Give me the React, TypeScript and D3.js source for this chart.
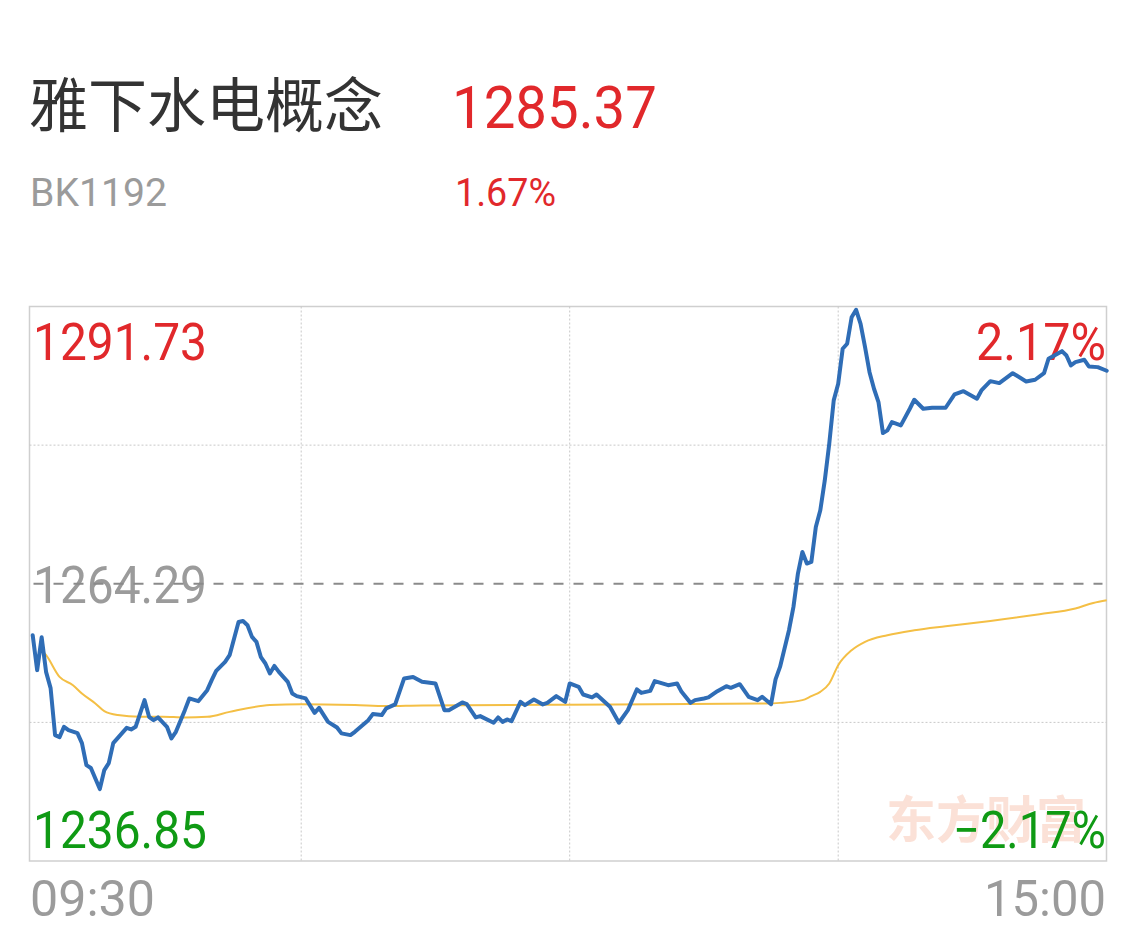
import React from "react";
import * as d3 from "d3";

// Intraday trend of the 雅下水电概念 sector index (BK1192)
const SECTOR_NAME = "雅下水电概念";
const SECTOR_CODE = "BK1192";
const LAST_PRICE = 1285.37;
const CHANGE_PCT = "1.67%";
const PREV_CLOSE = 1264.29;
const AXIS_HIGH = 1291.73;
const AXIS_LOW = 1236.85;
const HIGH_PCT = "2.17%";
const LOW_PCT = "\u22122.17%";
const timeLabels = ["09:30", "15:00"];
const TOTAL_MINUTES = 240;

// Price line: minute index since open (lunch break removed) and index level
const priceMinutes = [
  0, 1, 2, 3, 4, 5, 6, 7, 8, 10, 11, 12, 13, 15, 16, 17, 18, 21, 22, 23, 25, 26, 27, 28, 30,
  31, 32, 34, 35, 37, 39, 40, 41, 43, 44, 46, 47, 48, 49, 50, 51, 52, 53, 54, 55, 57, 58, 59,
  61, 63, 64, 66, 68, 69, 71, 72, 75, 76, 78, 79, 81, 83, 85, 87, 90, 92, 93, 96, 97, 99, 100,
  103, 104, 105, 106, 107, 109, 110, 112, 114, 115, 117, 119, 120, 122, 123, 125, 126, 129,
  131, 133, 135, 136, 138, 139, 142, 144, 145, 147, 148, 150, 151, 153, 155, 156, 158, 160,
  162, 163, 165, 166, 167, 169, 170, 171, 172, 173, 174, 175, 176, 177, 178, 179, 180, 181,
  182, 183, 184, 185, 186, 187, 188, 189, 190, 191, 192, 194, 196, 197, 199, 201, 204, 206,
  208, 211, 212, 214, 216, 219, 222, 224, 226, 227, 230, 231, 232, 233, 235, 236, 238, 240,
];
const priceValues = [
  1259.2, 1255.74, 1259.0, 1255.54, 1253.96, 1249.31, 1249.11, 1250.13, 1249.8, 1249.51,
  1248.52, 1246.34, 1246.05, 1243.97, 1245.85, 1246.54, 1248.52, 1250.03, 1249.87, 1250.13,
  1252.77, 1251.12, 1250.79, 1251.06, 1250.13, 1248.98, 1249.64, 1251.78, 1252.94, 1252.67,
  1253.76, 1254.75, 1255.67, 1256.56, 1257.22, 1260.51, 1260.61, 1260.19, 1259.03, 1258.54,
  1257.02, 1256.4, 1255.41, 1256.16, 1255.57, 1254.58, 1253.43, 1253.17, 1252.94, 1251.51,
  1252.01, 1250.62, 1250.07, 1249.48, 1249.31, 1249.64, 1250.79, 1251.39, 1251.29, 1251.95,
  1252.35, 1254.92, 1255.07, 1254.58, 1254.42, 1251.78, 1251.78, 1252.54, 1252.37, 1251.06,
  1251.19, 1250.53, 1251.06, 1250.62, 1250.86, 1250.69, 1252.6, 1252.28, 1252.84, 1252.35,
  1252.5, 1253.17, 1252.6, 1254.42, 1254.09, 1253.33, 1253.04, 1253.33, 1252.11, 1250.53,
  1251.78, 1253.83, 1253.49, 1253.69, 1254.65, 1254.25, 1254.42, 1253.59, 1252.5, 1252.77,
  1252.94, 1253.04, 1253.66, 1254.15, 1253.99, 1254.35, 1253.1, 1252.77, 1253.1, 1252.37,
  1254.82, 1256.06, 1259.69, 1262.0, 1265.3, 1267.43, 1266.29, 1266.45, 1269.91, 1271.56,
  1274.52, 1278.15, 1282.44, 1284.09, 1287.55, 1288.04, 1290.67, 1291.4, 1290.02, 1287.71,
  1285.23, 1283.59, 1282.27, 1279.2, 1279.47, 1280.29, 1279.96, 1281.61, 1282.5, 1281.61,
  1281.71, 1281.71, 1283.03, 1283.35, 1282.6, 1283.42, 1284.34, 1284.15, 1285.13, 1284.31,
  1284.48, 1285.13, 1286.56, 1287.31, 1286.88, 1285.9, 1286.22, 1286.46, 1285.8, 1285.73,
  LAST_PRICE,
];

// Average price line
const avgMinutes = [
  2, 3, 6, 9, 11, 14, 16, 19, 24, 29, 34, 39, 44, 53, 60, 72, 79, 87, 119, 164, 167, 172, 174,
  176, 178, 180, 183, 186, 191, 197, 204, 214, 225, 233, 237, 240,
];
const avgValues = [
  1257.71, 1257.22, 1255.07, 1254.25, 1253.43, 1252.44, 1251.68, 1251.29, 1251.12, 1251.12,
  1251.06, 1251.12, 1251.61, 1252.28, 1252.37, 1252.28, 1252.18, 1252.25, 1252.31, 1252.44,
  1252.5, 1252.77, 1253.17, 1253.59, 1254.42, 1256.23, 1257.71, 1258.54, 1259.2, 1259.69,
  1260.09, 1260.61, 1261.27, 1261.84, 1262.39, 1262.66,
];

const W = 1136;
const H = 933;
const box = { left: 29.5, right: 1106.5, top: 306.5, bottom: 861 };
const RED = "#e1282b";
const GREEN = "#0f9a14";
const GRAY = "#9b9b9b";
const NUM_FONT = "Roboto, 'Noto Sans', sans-serif";
const CJK_FONT = "'Noto Sans CJK SC', 'Noto Sans', sans-serif";

export default function App() {
  const x = d3.scaleLinear().domain([0, TOTAL_MINUTES]).range([32.7, 1106.7]);
  const y = d3.scaleLinear().domain([AXIS_LOW, AXIS_HIGH]).range([box.bottom, box.top]);

  const priceData = priceMinutes.map((m, i) => [m, priceValues[i]] as [number, number]);
  const avgData = avgMinutes.map((m, i) => [m, avgValues[i]] as [number, number]);

  const priceLine = d3
    .line<[number, number]>()
    .x((d) => x(d[0]))
    .y((d) => y(d[1]))
    .curve(d3.curveLinear);
  const avgLine = d3
    .line<[number, number]>()
    .x((d) => x(d[0]))
    .y((d) => y(d[1]))
    .curve(d3.curveMonotoneX);

  const vGrid = [60, 120, 180];
  const rowH = (box.bottom - box.top) / 4;
  const hGrid = [box.top + rowH, box.top + rowH * 3];
  const baseY = y(PREV_CLOSE);

  return (
    <svg
      width={W}
      height={H}
      viewBox={`0 0 ${W} ${H}`}
      style={{ position: "absolute", left: 0, top: 0, background: "#fff" }}
    >
      {/* header */}
      <text x={29} y={127} fontFamily={CJK_FONT} fontSize={59} fill="#333">
        {SECTOR_NAME}
      </text>
      <text
        x={452}
        y={128}
        fontFamily={NUM_FONT}
        fontSize={60}
        fill={RED}
        textLength={205}
        lengthAdjust="spacingAndGlyphs"
      >
        {LAST_PRICE.toFixed(2)}
      </text>
      <text
        x={30}
        y={206}
        fontFamily={NUM_FONT}
        fontSize={39}
        fill={GRAY}
        textLength={137}
        lengthAdjust="spacingAndGlyphs"
      >
        {SECTOR_CODE}
      </text>
      <text
        x={455}
        y={206}
        fontFamily={NUM_FONT}
        fontSize={39}
        fill={RED}
        textLength={101}
        lengthAdjust="spacingAndGlyphs"
      >
        {CHANGE_PCT}
      </text>

      {/* frame and grid */}
      <rect
        x={box.left}
        y={box.top}
        width={box.right - box.left}
        height={box.bottom - box.top}
        fill="none"
        stroke="#cfcfcf"
        strokeWidth={1.5}
      />
      {vGrid.map((m) => (
        <line
          key={m}
          x1={x(m)}
          x2={x(m)}
          y1={box.top}
          y2={box.bottom}
          stroke="#c8c8c8"
          strokeWidth={1}
          strokeDasharray="2 2"
        />
      ))}
      {hGrid.map((gy) => (
        <line
          key={gy}
          x1={box.left}
          x2={box.right}
          y1={gy}
          y2={gy}
          stroke="#c8c8c8"
          strokeWidth={1}
          strokeDasharray="2 2"
        />
      ))}

      {/* watermark */}
      <text
        x={886}
        y={838}
        fontFamily={CJK_FONT}
        fontSize={50}
        fontWeight={700}
        fill="#fbe1d7"
      >
        东方财富
      </text>

      {/* axis labels */}
      <text x={33} y={360} fontFamily={NUM_FONT} fontSize={51} fill={RED} textLength={174} lengthAdjust="spacingAndGlyphs">
        {AXIS_HIGH.toFixed(2)}
      </text>
      <text x={33} y={603} fontFamily={NUM_FONT} fontSize={51} fill={GRAY} textLength={174} lengthAdjust="spacingAndGlyphs">
        {PREV_CLOSE.toFixed(2)}
      </text>
      <text x={33} y={848} fontFamily={NUM_FONT} fontSize={51} fill={GREEN} textLength={174} lengthAdjust="spacingAndGlyphs">
        {AXIS_LOW.toFixed(2)}
      </text>
      <text x={976} y={360} fontFamily={NUM_FONT} fontSize={51} fill={RED} textLength={130} lengthAdjust="spacingAndGlyphs">
        {HIGH_PCT}
      </text>
      <text x={953} y={848} fontFamily={NUM_FONT} fontSize={51} fill={GREEN} textLength={153} lengthAdjust="spacingAndGlyphs">
        {LOW_PCT}
      </text>

      {/* previous close */}
      <line
        x1={box.left + 4}
        x2={box.right - 4}
        y1={baseY}
        y2={baseY}
        stroke="#8a8a8a"
        strokeWidth={2}
        strokeDasharray="10 10"
      />

      {/* average and price lines */}
      <path d={avgLine(avgData) ?? ""} fill="none" stroke="#f4bf45" strokeWidth={2} />
      <path
        d={priceLine(priceData) ?? ""}
        fill="none"
        stroke="#2f6db6"
        strokeWidth={4}
        strokeLinejoin="round"
        strokeLinecap="round"
      />

      {/* time labels */}
      <text x={30} y={916} fontFamily={NUM_FONT} fontSize={50} fill={GRAY} textLength={125} lengthAdjust="spacingAndGlyphs">
        {timeLabels[0]}
      </text>
      <text x={984} y={916} fontFamily={NUM_FONT} fontSize={50} fill={GRAY} textLength={122} lengthAdjust="spacingAndGlyphs">
        {timeLabels[1]}
      </text>
    </svg>
  );
}
